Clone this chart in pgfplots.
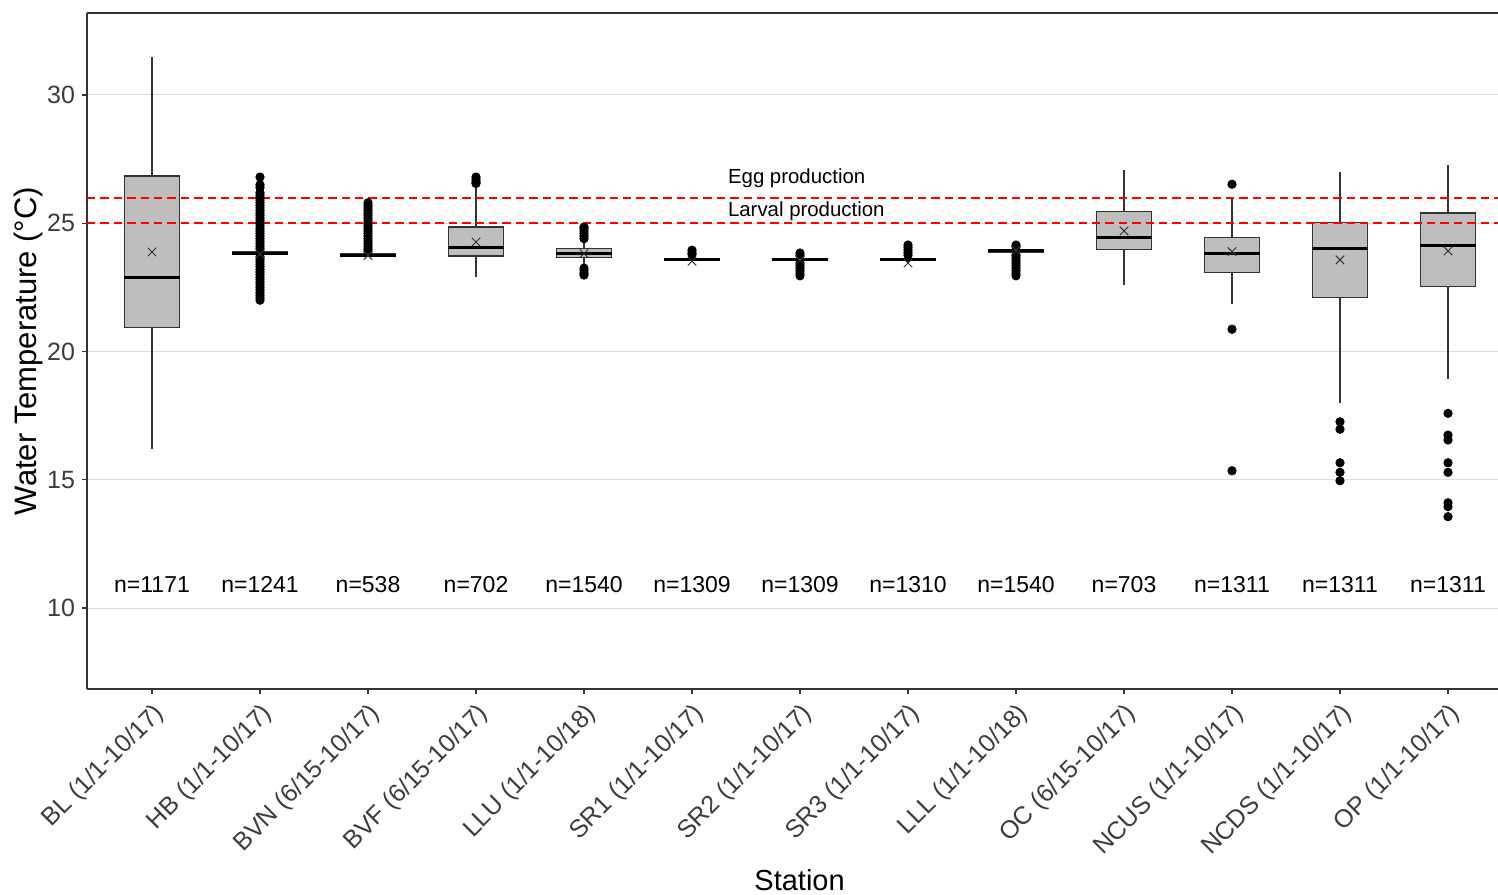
\documentclass[border=0pt]{standalone}
\usepackage{fontspec}
\setmainfont{Liberation Sans}
\usepackage{pgfplots}
\pgfplotsset{compat=1.18}
\definecolor{boxfill}{RGB}{190,190,190}
\definecolor{boxline}{RGB}{51,51,51}
\definecolor{tickgray}{RGB}{60,60,60}
\definecolor{gridgray}{RGB}{222,222,222}
\definecolor{axisgray}{RGB}{51,51,51}
\definecolor{thr}{RGB}{255,0,0}
% #1 position, #2 lower whisker, #3 lower quartile, #4 median, #5 upper quartile, #6 upper whisker
\newcommand{\statbox}[6]{%
  \pgfmathsetmacro\xl{#1-0.255}%
  \pgfmathsetmacro\xr{#1+0.255}%
  \addplot[draw=boxline, line width=0.6pt] coordinates {(#1,#2) (#1,#3)};
  \addplot[draw=boxline, line width=0.6pt] coordinates {(#1,#5) (#1,#6)};
  \addplot[draw=boxline, fill=boxfill, line width=0.6pt] coordinates {(\xl,#3) (\xr,#3) (\xr,#5) (\xl,#5)} -- cycle;
  \addplot[draw=black, line width=1.5pt] coordinates {(\xl,#4) (\xr,#4)};
}
\begin{document}
\begin{tikzpicture}
\begin{axis}[
  name=ax,
  scale only axis,
  width=705.5pt, height=338pt,
  xmin=0.398, xmax=13.463,
  ymin=6.842, ymax=33.197,
  clip=false,
  axis x line*=bottom, axis y line*=left,
  axis line style={axisgray, line width=0.6pt},
  tick style={axisgray, line width=0.6pt},
  tick align=outside, major tick length=2.5pt,
  xtick={1,2,3,4,5,6,7,8,9,10,11,12,13},
  xticklabels={BL (1/1-10/17), HB (1/1-10/17), BVN (6/15-10/17), BVF (6/15-10/17), LLU (1/1-10/18), SR1 (1/1-10/17), SR2 (1/1-10/17), SR3 (1/1-10/17), LLL (1/1-10/18), OC (6/15-10/17), NCUS (1/1-10/17), NCDS (1/1-10/17), OP (1/1-10/17)},
  ytick={10,15,20,25,30},
  ymajorgrids,
  grid style={gridgray, line width=0.5pt},
  /pgf/number format/assume math mode=true,
  yticklabel style={font=\fontsize{12.5}{15}\selectfont, text=tickgray},
  xticklabel style={font=\fontsize{12.5}{15}\selectfont, text=tickgray, rotate=45, anchor=north east, inner sep=2.5pt},
  xlabel={Station},
  ylabel={Water Temperature (°C)},
  xlabel style={font=\fontsize{14.5}{16}\selectfont, at={([yshift=-95.5pt]axis description cs:0.505,0)}, anchor=center},
  ylabel style={font=\fontsize{15.5}{17}\selectfont, at={([xshift=-29.5pt]axis description cs:0,0.5)}, anchor=center, rotate=0},
]
% boxes: position, lower whisker, lower quartile, median, upper quartile, upper whisker
\statbox{1}{16.2}{20.95}{22.9}{26.84}{31.48}
\statbox{2}{23.8}{23.8}{23.84}{23.88}{23.9}
\statbox{3}{23.72}{23.72}{23.76}{23.8}{23.85}
\statbox{4}{22.9}{23.72}{24.07}{24.85}{26.4}
\statbox{5}{23.4}{23.68}{23.82}{24.0}{24.3}
\statbox{6}{23.5}{23.57}{23.6}{23.63}{23.7}
\statbox{7}{23.5}{23.57}{23.6}{23.63}{23.7}
\statbox{8}{23.5}{23.57}{23.6}{23.63}{23.7}
\statbox{9}{23.8}{23.87}{23.93}{23.98}{24.0}
\statbox{10}{22.6}{23.98}{24.44}{25.45}{27.08}
\statbox{11}{21.85}{23.09}{23.81}{24.46}{26.04}
\statbox{12}{18.0}{22.11}{24.01}{25.02}{27.0}
\statbox{13}{18.93}{22.54}{24.12}{25.4}{27.27}
% thresholds
\addplot[draw=thr, color=thr, mark=none, dash pattern=on 4.2pt off 2.5pt, line width=1pt] coordinates {(0.398,26) (13.463,26)};
\addplot[draw=thr, color=thr, mark=none, dash pattern=on 4.2pt off 2.5pt, line width=1pt] coordinates {(0.398,25) (13.463,25)};
% outliers
\addplot[only marks, mark=*, mark size=2.1pt, black] coordinates {
(2,22.0)(2,22.1)(2,22.2)(2,22.3)(2,22.4)(2,22.5)(2,22.6)(2,22.7)(2,22.8)(2,22.9)(2,23.0)(2,23.1)(2,23.2)(2,23.3)(2,23.4)(2,23.5)(2,23.6)(2,23.7)
(2,24.0)(2,24.1)(2,24.2)(2,24.3)(2,24.4)(2,24.5)(2,24.6)(2,24.7)(2,24.8)(2,24.9)(2,25.0)(2,25.1)(2,25.2)(2,25.3)(2,25.4)(2,25.5)(2,25.6)(2,25.7)(2,25.8)(2,25.9)(2,26.0)(2,26.1)(2,26.2)(2,26.4)(2,26.5)(2,26.8)
(3,23.9)(3,24.0)(3,24.1)(3,24.2)(3,24.3)(3,24.4)(3,24.5)(3,24.6)(3,24.7)(3,24.8)(3,24.9)(3,25.0)(3,25.1)(3,25.2)(3,25.3)(3,25.4)(3,25.5)(3,25.6)(3,25.7)(3,25.8)
(4,26.55)(4,26.6)(4,26.7)(4,26.8)
(5,24.4)(5,24.5)(5,24.6)(5,24.7)(5,24.8)(5,24.85)(5,23.25)(5,23.15)(5,23.05)(5,22.98)
(6,23.95)(6,23.85)(6,23.78)
(7,23.84)(7,23.75)(7,23.45)(7,23.35)(7,23.25)(7,23.15)(7,23.05)(7,22.95)
(8,24.15)(8,24.05)(8,23.95)(8,23.85)(8,23.75)
(9,24.15)(9,24.08)(9,23.75)(9,23.65)(9,23.55)(9,23.45)(9,23.35)(9,23.25)(9,23.15)(9,23.05)(9,22.95)
(11,26.52)(11,20.87)(11,15.35)
(12,17.26)(12,16.97)(12,15.66)(12,15.29)(12,14.96)
(13,17.59)(13,16.74)(13,16.55)(13,15.66)(13,15.29)(13,14.1)(13,13.95)(13,13.56)
};
% means
\addplot[only marks, mark=x, mark size=3pt, boxline, mark options={line width=0.5pt}] coordinates {
(1,23.88)(2,23.8)(3,23.75)(4,24.27)(5,23.82)(6,23.52)(7,23.55)(8,23.45)(9,23.95)(10,24.7)(11,23.89)(12,23.57)(13,23.92)
};
\node[anchor=west, font=\fontsize{10.2}{12}\selectfont, inner sep=0pt] at (axis cs:6.33,26.76) {Egg production};
\node[anchor=west, font=\fontsize{10.2}{12}\selectfont, inner sep=0pt] at (axis cs:6.33,25.48) {Larval production};
% counts
\node[font=\fontsize{11.5}{13}\selectfont] at (axis cs:1,10.93) {n=1171};
\node[font=\fontsize{11.5}{13}\selectfont] at (axis cs:2,10.93) {n=1241};
\node[font=\fontsize{11.5}{13}\selectfont] at (axis cs:3,10.93) {n=538};
\node[font=\fontsize{11.5}{13}\selectfont] at (axis cs:4,10.93) {n=702};
\node[font=\fontsize{11.5}{13}\selectfont] at (axis cs:5,10.93) {n=1540};
\node[font=\fontsize{11.5}{13}\selectfont] at (axis cs:6,10.93) {n=1309};
\node[font=\fontsize{11.5}{13}\selectfont] at (axis cs:7,10.93) {n=1309};
\node[font=\fontsize{11.5}{13}\selectfont] at (axis cs:8,10.93) {n=1310};
\node[font=\fontsize{11.5}{13}\selectfont] at (axis cs:9,10.93) {n=1540};
\node[font=\fontsize{11.5}{13}\selectfont] at (axis cs:10,10.93) {n=703};
\node[font=\fontsize{11.5}{13}\selectfont] at (axis cs:11,10.93) {n=1311};
\node[font=\fontsize{11.5}{13}\selectfont] at (axis cs:12,10.93) {n=1311};
\node[font=\fontsize{11.5}{13}\selectfont] at (axis cs:13,10.93) {n=1311};
\draw[axisgray, line width=0.6pt] (rel axis cs:0,1) -- (rel axis cs:1,1);
\end{axis}
\pgfresetboundingbox
\useasboundingbox ([shift={(-43.5pt,-102.5pt)}]ax.south west) rectangle ([shift={(0pt,6.5pt)}]ax.north east);
\end{tikzpicture}
\end{document}
